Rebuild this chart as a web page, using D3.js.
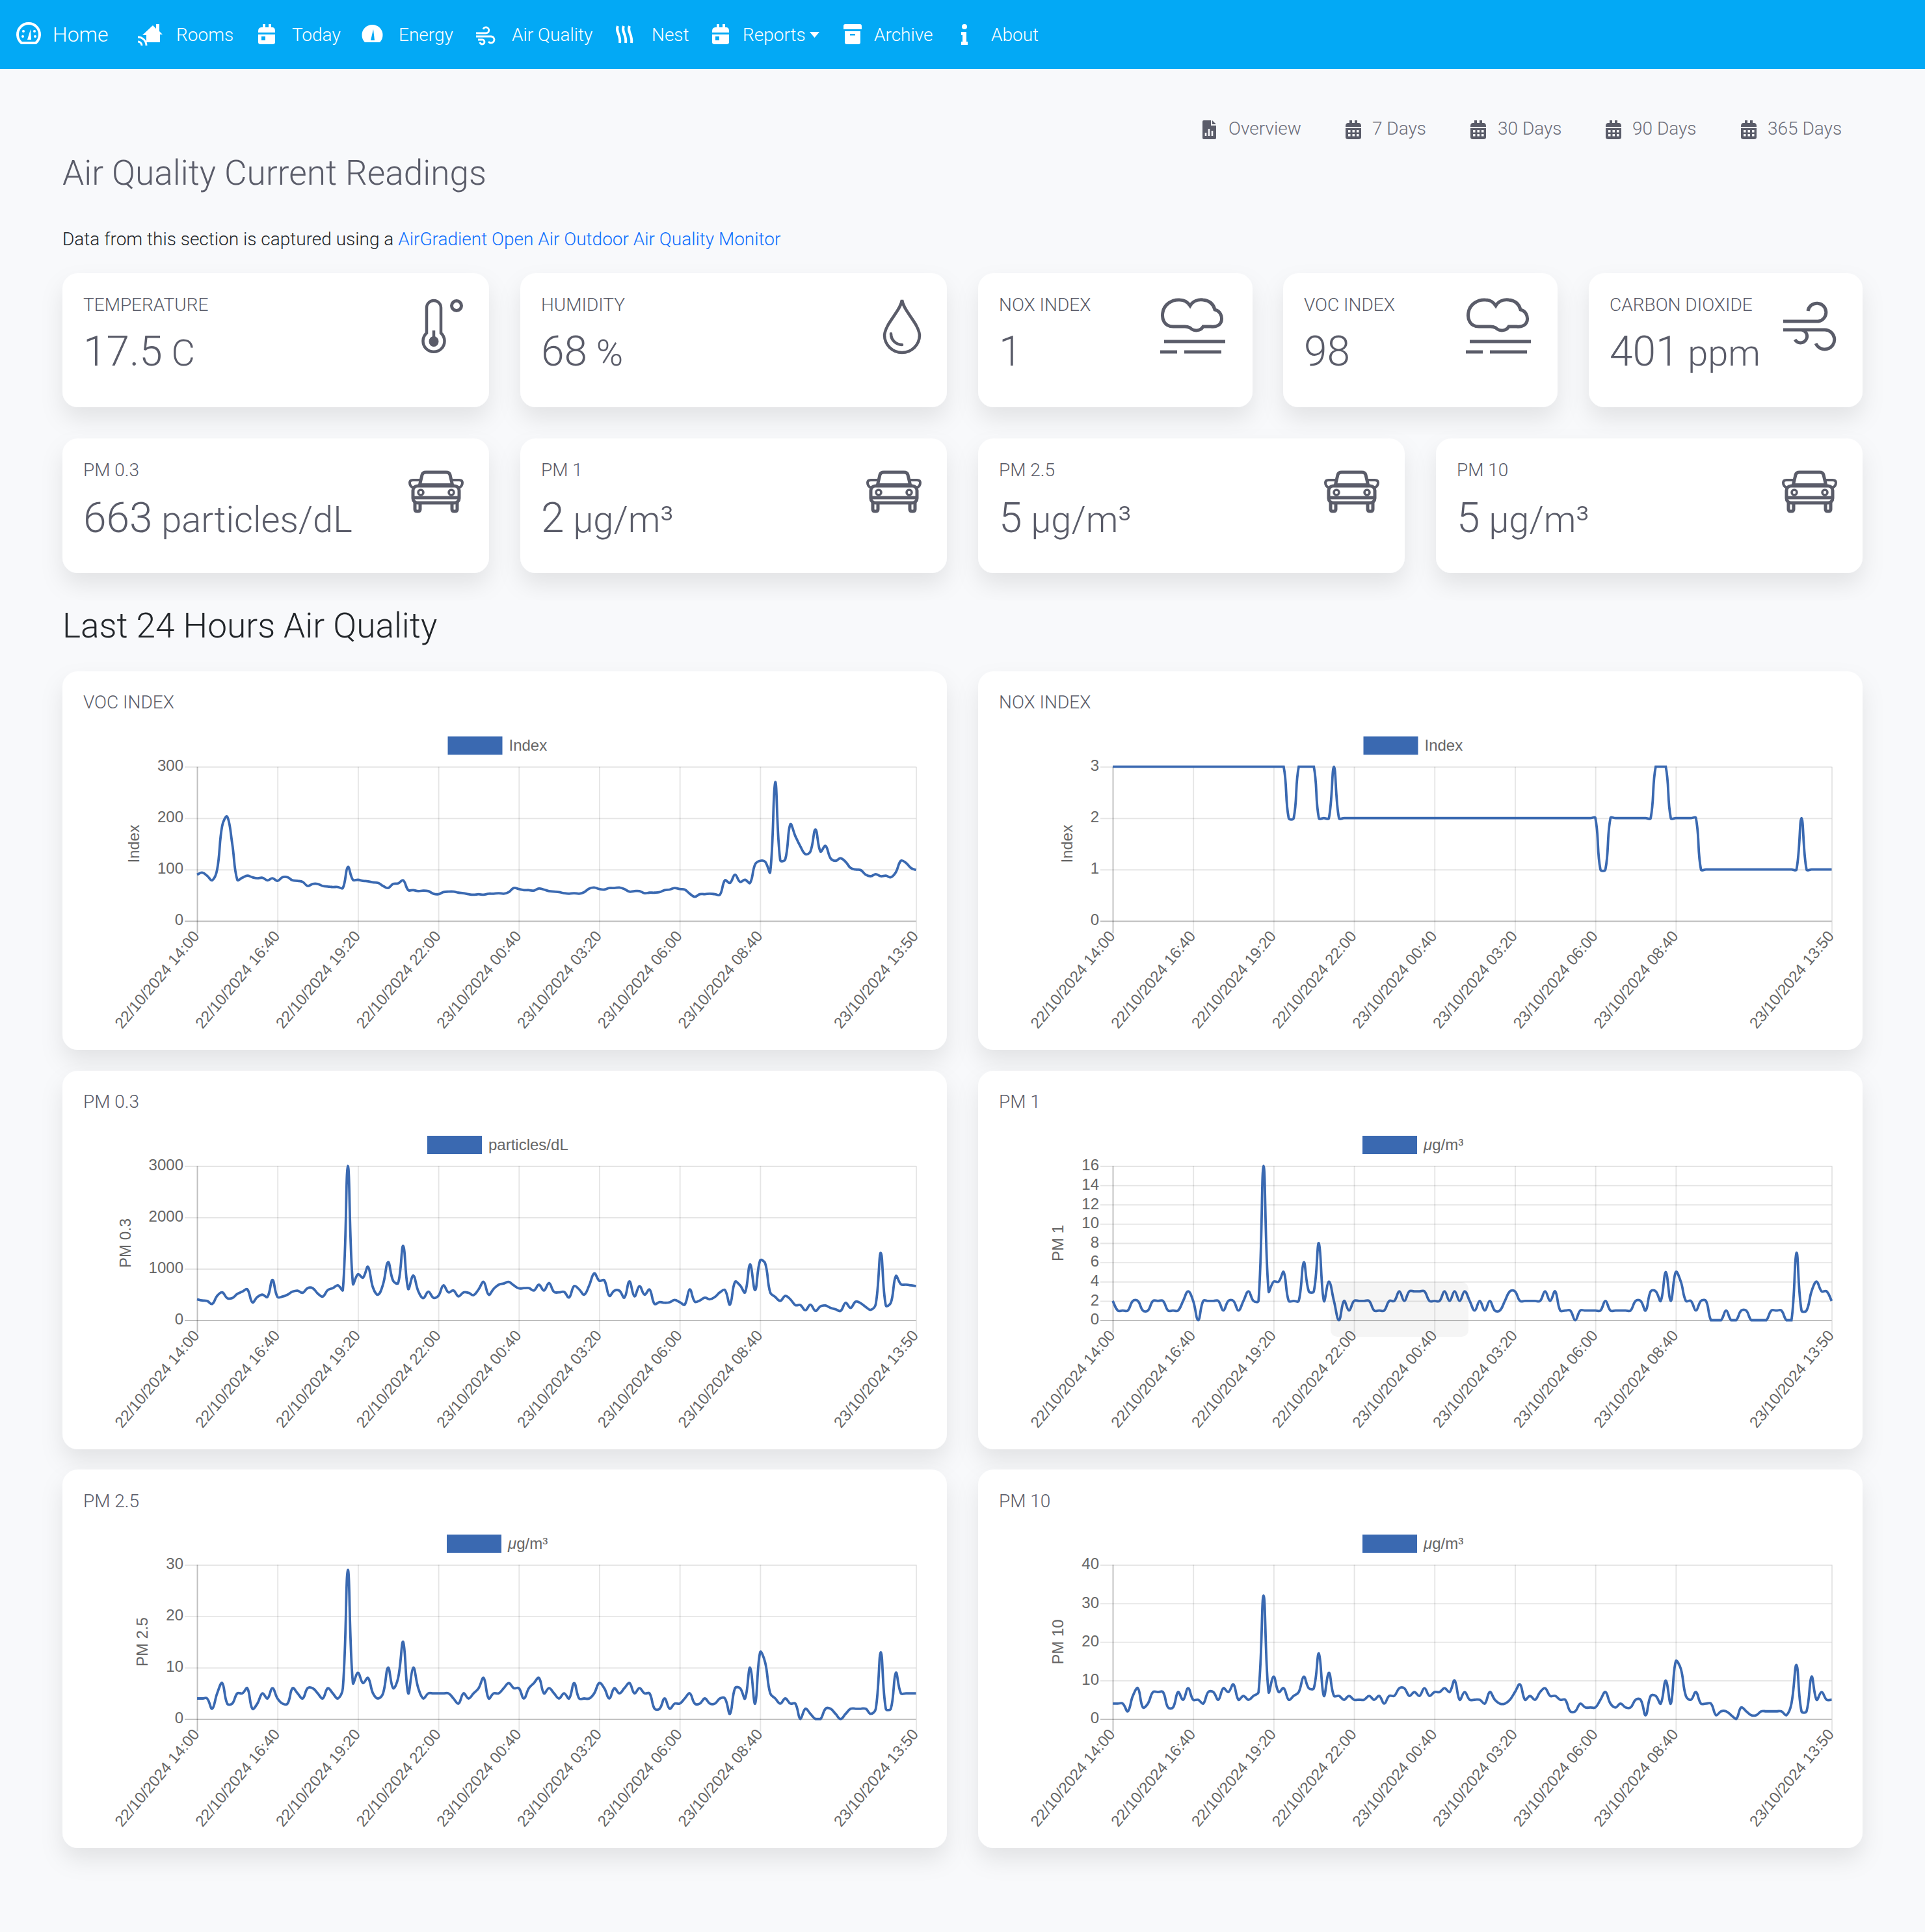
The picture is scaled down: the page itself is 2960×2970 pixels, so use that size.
<!DOCTYPE html>
<html>
<head>
<meta charset="utf-8">
<title>Air Quality</title>
<script src="https://cdn.jsdelivr.net/npm/d3@7"></script>
<style>
    html, body { margin: 0; padding: 0; background: #f8f9fb; }
    svg { display: block; }
    text { font-family: Roboto, sans-serif; font-weight: 300; }
    .chart-text { font-family: "Liberation Sans", Arial, sans-serif; font-weight: 400; fill: #666; font-size: 24px; }
</style>
</head>
<body>
<svg id="page" width="2960" height="2970"></svg>
<script>
// Series values, one per 10 minutes
const vocValues = [90, 94, 88, 79, 100, 185, 203, 150, 80, 84, 88, 85, 83, 84, 79, 83, 78, 85, 85, 79, 78, 76, 68, 72, 72, 68, 67, 66, 66, 64, 105, 80, 80, 78, 77, 75, 74, 68, 64, 72, 73, 79, 60, 60, 58, 59, 58, 53, 52, 56, 57, 57, 55, 54, 52, 51, 52, 51, 53, 53, 54, 53, 56, 64, 62, 60, 60, 59, 63, 61, 58, 57, 56, 54, 53, 54, 53, 56, 63, 65, 62, 61, 64, 64, 65, 62, 57, 58, 58, 54, 55, 55, 56, 60, 61, 64, 62, 61, 53, 47, 52, 52, 53, 52, 51, 79, 74, 90, 76, 80, 74, 110, 117, 115, 95, 270, 118, 120, 188, 165, 145, 130, 135, 178, 135, 146, 122, 117, 122, 115, 103, 100, 99, 90, 87, 91, 87, 88, 85, 95, 117, 113, 103, 99];
const noxValues = [3, 3, 3, 3, 3, 3, 3, 3, 3, 3, 3, 3, 3, 3, 3, 3, 3, 3, 3, 3, 3, 3, 3, 3, 3, 3, 3, 3, 3, 3, 3, 3, 3, 3, 3, 2, 2, 3, 3, 3, 3, 2, 2, 2, 3, 2, 2, 2, 2, 2, 2, 2, 2, 2, 2, 2, 2, 2, 2, 2, 2, 2, 2, 2, 2, 2, 2, 2, 2, 2, 2, 2, 2, 2, 2, 2, 2, 2, 2, 2, 2, 2, 2, 2, 2, 2, 2, 2, 2, 2, 2, 2, 2, 2, 2, 2, 2, 1, 1, 2, 2, 2, 2, 2, 2, 2, 2, 2, 3, 3, 3, 2, 2, 2, 2, 2, 2, 1, 1, 1, 1, 1, 1, 1, 1, 1, 1, 1, 1, 1, 1, 1, 1, 1, 1, 1, 1, 2, 1, 1, 1, 1, 1, 1];
const pm03Values = [407, 384, 375, 316, 474, 542, 430, 430, 510, 556, 600, 348, 452, 497, 452, 782, 452, 460, 497, 556, 574, 533, 624, 624, 520, 460, 587, 624, 678, 587, 3000, 709, 895, 827, 1040, 633, 497, 700, 1130, 768, 723, 1445, 610, 868, 565, 430, 556, 438, 474, 678, 542, 578, 465, 542, 533, 488, 600, 745, 497, 610, 690, 714, 745, 678, 620, 624, 624, 578, 690, 578, 723, 551, 542, 551, 443, 664, 600, 497, 678, 912, 768, 777, 474, 574, 574, 438, 754, 465, 664, 497, 596, 316, 352, 339, 348, 393, 352, 303, 600, 361, 384, 438, 407, 452, 542, 587, 303, 745, 678, 542, 1085, 587, 1165, 1107, 542, 452, 375, 474, 407, 294, 294, 194, 303, 181, 271, 285, 240, 212, 181, 339, 240, 361, 330, 258, 203, 316, 1310, 285, 339, 858, 700, 691, 678, 663];
const pm1Values = [2, 1, 1, 1, 2, 2, 1, 1, 2, 2, 2, 1, 1, 1, 2, 3, 2, 0, 2, 2, 2, 2, 1, 2, 2, 1, 2, 3, 2, 2, 16, 3, 4, 4, 5, 2, 2, 2, 6, 3, 3, 8, 2, 4, 2, 0, 2, 1, 2, 2, 2, 2, 1, 1, 1, 2, 2, 3, 2, 3, 3, 3, 3, 2, 2, 2, 3, 2, 3, 2, 3, 2, 1, 2, 1, 2, 1, 1, 2, 3, 3, 2, 2, 2, 2, 2, 3, 2, 3, 1, 1, 1, 0, 1, 1, 1, 1, 1, 2, 1, 1, 1, 1, 1, 2, 2, 1, 3, 3, 2, 5, 2, 5, 4, 2, 2, 1, 2, 2, 0, 0, 0, 1, 0, 0, 1, 1, 0, 0, 0, 0, 1, 1, 1, 0, 0, 7, 1, 1, 3, 4, 3, 3, 2];
const pm25Values = [4, 4, 4, 2, 5, 7, 3, 3, 5, 5, 6, 2, 3, 5, 4, 6, 4, 3, 3, 6, 5, 4, 6, 6, 5, 4, 6, 5, 4, 6, 29, 7, 9, 7, 8, 5, 4, 5, 10, 6, 8, 15, 5, 10, 6, 4, 5, 5, 5, 5, 5, 4, 3, 5, 4, 5, 6, 8, 4, 5, 5, 6, 7, 6, 6, 4, 6, 7, 8, 5, 6, 5, 4, 5, 4, 7, 4, 4, 4, 5, 7, 6, 4, 6, 5, 6, 7, 5, 6, 5, 5, 2, 2, 4, 2, 3, 3, 4, 5, 3, 3, 4, 3, 3, 4, 4, 1, 6, 6, 4, 10, 3, 13, 11, 5, 4, 3, 4, 3, 3, 0, 2, 1, 0, 0, 2, 2, 1, 0, 1, 2, 2, 2, 2, 1, 2, 13, 2, 2, 9, 5, 5, 5, 5];
const pm10Values = [4, 4, 4, 2, 6, 8, 3, 4, 7, 7, 7, 3, 3, 7, 5, 8, 5, 5, 4, 7, 7, 5, 8, 7, 9, 5, 6, 5, 6, 7, 32, 7, 11, 7, 8, 5, 6, 7, 11, 8, 8, 17, 6, 12, 6, 6, 5, 6, 5, 5, 5, 6, 5, 6, 4, 6, 6, 8, 8, 6, 7, 6, 8, 6, 7, 7, 8, 7, 10, 5, 7, 5, 5, 5, 4, 7, 5, 4, 4, 5, 7, 9, 5, 6, 5, 7, 8, 6, 6, 5, 5, 2, 2, 4, 3, 3, 3, 5, 7, 4, 3, 4, 3, 3, 5, 5, 1, 6, 6, 4, 10, 4, 15, 13, 6, 5, 7, 4, 4, 4, 1, 2, 2, 1, 0, 3, 2, 1, 1, 2, 2, 2, 2, 2, 1, 4, 14, 2, 2, 11, 5, 7, 5, 5];

// Shared category axis: sample index of each labelled tick
const xTickIndex = [0, 16, 32, 48, 64, 80, 96, 112, 143];
const xTickLabels = ['22/10/2024 14:00', '22/10/2024 16:40', '22/10/2024 19:20', '22/10/2024 22:00', '23/10/2024 00:40', '23/10/2024 03:20', '23/10/2024 06:00', '23/10/2024 08:40', '23/10/2024 13:50'];
const sampleCount = 144;

// Y axis ticks per chart
const vocTicks = [0, 100, 200, 300];
const noxTicks = [0, 1, 2, 3];
const pm03Ticks = [0, 1000, 2000, 3000];
const pm1Ticks = [0, 2, 4, 6, 8, 10, 12, 14, 16];
const pm25Ticks = [0, 10, 20, 30];
const pm10Ticks = [0, 10, 20, 30, 40];

// Current readings: label, number, unit
const topReadings = [['TEMPERATURE', '17.5', 'C'], ['HUMIDITY', '68', '%'], ['NOX INDEX', '1', ''], ['VOC INDEX', '98', ''], ['CARBON DIOXIDE', '401', 'ppm']];
const particleReadings = [['PM 0.3', '663', 'particles/dL'], ['PM 1', '2', 'μg/m³'], ['PM 2.5', '5', 'μg/m³'], ['PM 10', '5', 'μg/m³']];

const lineColor = '#3a69b1';
const textColor = '#5a5c69';
const navColor = '#03a9f5';
const pageColor = '#f8f9fb';

const svg = d3.select('#page');

const defs = svg.append('defs');
defs.append('filter')
    .attr('id', 'card-shadow')
    .attr('x', '-10%').attr('y', '-10%').attr('width', '120%').attr('height', '130%')
    .append('feDropShadow')
    .attr('dx', 0).attr('dy', 18).attr('stdDeviation', 17)
    .attr('flood-color', '#000').attr('flood-opacity', 0.085);

// Icons are drawn in pixel units from their own top left corner
const iconShapes = {
    gauge: g => {
        g.append('path').attr('d', 'M7 30 A17 17 0 1 1 29 30 Z').attr('fill', 'none').attr('stroke', '#fff').attr('stroke-width', 4);
        g.append('path').attr('d', 'M16 25 L21 9 L22 25 Z').attr('fill', '#fff');
        [[9, 20], [10, 12], [27, 12], [28, 20]].forEach(p => g.append('circle').attr('cx', p[0]).attr('cy', p[1]).attr('r', 2).attr('fill', '#fff'));
    },
    rooms: g => {
        g.append('path').attr('d', 'M8 17 L24 2 L29 7 V0 H34 V11 L39 16 H35 V28 H14 V17 Z').attr('fill', '#fff');
        g.append('path').attr('d', 'M1 20 A13 13 0 0 1 14 33 M1 27 A6 6 0 0 1 7 33').attr('fill', 'none').attr('stroke', '#fff').attr('stroke-width', 3);
    },
    calendar: g => {
        g.append('path').attr('d', 'M0 11 Q0 5 5 5 H7 V0 H11 V5 H16 V0 H20 V5 H22 Q26 5 26 11 V13 H0 Z M0 16 H26 V28 Q26 31 22 31 H4 Q0 31 0 28 Z').attr('fill', '#fff');
        g.append('rect').attr('x', 5).attr('y', 19).attr('width', 6).attr('height', 6).attr('fill', navColor);
    },
    energy: g => {
        g.append('path').attr('d', 'M5 28 A16 16 0 1 1 28 28 Z').attr('fill', '#fff');
        g.append('path').attr('d', 'M14 25 L18 8 L20 25 Z').attr('fill', navColor);
    },
    wind: g => {
        g.append('path').attr('d', 'M0 9 H15 A4.5 4.5 0 1 0 11 3 M0 14 H23 A5 5 0 1 1 19 22 M3 19 H9 A3.5 3.5 0 1 1 6 23').attr('fill', 'none').attr('stroke', '#fff').attr('stroke-width', 2.8);
    },
    nest: g => {
        g.append('path').attr('d', 'M5 2 C1 11 10 15 8 28 M14 2 C10 11 19 15 17 28 M23 2 C19 11 28 15 26 28').attr('fill', 'none').attr('stroke', '#fff').attr('stroke-width', 4);
    },
    archive: g => {
        g.append('path').attr('d', 'M0 3 Q0 0 3 0 H25 Q28 0 28 3 V8 H0 Z M2 11 H26 V28 Q26 31 23 31 H5 Q2 31 2 28 Z').attr('fill', '#fff');
        g.append('rect').attr('x', 10).attr('y', 15).attr('width', 8).attr('height', 2.5).attr('fill', navColor);
    },
    info: g => {
        g.append('circle').attr('cx', 5).attr('cy', 4).attr('r', 4).attr('fill', '#fff');
        g.append('path').attr('d', 'M0 12 H8 V27 H10 V32 H0 V27 H2 V17 H0 Z').attr('fill', '#fff');
    },
    report: g => {
        g.append('path').attr('d', 'M0 2 Q0 0 2 0 H13 V8 H21 V27 Q21 29 19 29 H2 Q0 29 0 27 Z M15 0 L21 6 H15 Z').attr('fill', textColor);
        g.append('path').attr('d', 'M5 24 V19 M10 24 V13 M15 24 V16').attr('stroke', pageColor).attr('stroke-width', 2.6);
    },
    days: g => {
        g.append('path').attr('d', 'M0 9 Q0 4 4 4 H6 V0 H10 V4 H14 V0 H18 V4 H20 Q24 4 24 9 V10 H0 Z M0 12 H24 V26 Q24 29 20 29 H4 Q0 29 0 26 Z').attr('fill', textColor);
        [15, 21].forEach(y => [4, 10.5, 17].forEach(x => g.append('rect').attr('x', x).attr('y', y).attr('width', 3.5).attr('height', 3.5).attr('fill', pageColor)));
    },
    thermometer: g => {
        g.append('path').attr('d', 'M12 54 V15 A11 11 0 0 1 34 15 V54 A16.5 16.5 0 1 1 12 54 Z').attr('fill', 'none').attr('stroke', textColor).attr('stroke-width', 4.5);
        g.append('path').attr('d', 'M23 50 V66').attr('stroke', textColor).attr('stroke-width', 4.5);
        g.append('ellipse').attr('cx', 23).attr('cy', 67).attr('rx', 7.5).attr('ry', 8).attr('fill', textColor);
        g.append('circle').attr('cx', 58).attr('cy', 12).attr('r', 7.5).attr('fill', 'none').attr('stroke', textColor).attr('stroke-width', 5);
    },
    droplet: g => {
        g.append('path').attr('d', 'M29 3 C31 20 54 38 56 57 A27 27 0 0 1 2 57 C4 38 27 20 29 3 Z').attr('fill', 'none').attr('stroke', textColor).attr('stroke-width', 4.5);
        g.append('path').attr('d', 'M12 55 C12 65 20 72 29 72').attr('fill', 'none').attr('stroke', textColor).attr('stroke-width', 4.5).attr('stroke-linecap', 'round');
    },
    cloud: g => {
        g.append('path').attr('d', 'M20 44 C6 44 2 32 4 22 C6 10 18 2 30 3 C36 3 42 6 46 12 C50 5 58 2 66 3 C76 4 82 10 84 18 C92 20 96 28 94 36 C92 42 86 45 78 44 H66 C62 51 52 52 46 46 C42 44 40 44 38 44 Z').attr('fill', 'none').attr('stroke', textColor).attr('stroke-width', 5);
        g.append('path').attr('d', 'M6 67 H100 M0 83 H26 M37 83 H94').attr('fill', 'none').attr('stroke', textColor).attr('stroke-width', 5);
    },
    breeze: g => {
        g.append('path').attr('d', 'M2 32 H56 A14 14 0 1 0 40 16 M2 45 H66 A15 15 0 1 1 52 66 M10 45 H30 A10 10 0 1 1 20 60').attr('fill', 'none').attr('stroke', textColor).attr('stroke-width', 5);
    },
    car: g => {
        g.append('path').attr('d', 'M17 24 L21 7 Q22 3 27 3 H58 Q63 3 64 7 L68 24 M10 50 V60 Q10 63 14 63 Q18 63 18 60 V50 M67 50 V60 Q67 63 71 63 Q75 63 75 60 V50').attr('fill', 'none').attr('stroke', textColor).attr('stroke-width', 5);
        g.append('rect').attr('x', 7).attr('y', 24).attr('width', 71).attr('height', 26).attr('rx', 7).attr('fill', 'none').attr('stroke', textColor).attr('stroke-width', 5);
        g.append('path').attr('d', 'M7 42 H78').attr('stroke', textColor).attr('stroke-width', 5);
        g.append('path').attr('d', 'M17 23 H68').attr('stroke', textColor).attr('stroke-width', 6);
        g.append('path').attr('d', 'M8 27 Q2 25 2 19 Q2 15 7 15 H17 M77 27 Q83 25 83 19 Q83 15 78 15 H68').attr('fill', 'none').attr('stroke', textColor).attr('stroke-width', 4);
        [19, 66].forEach(x => g.append('circle').attr('cx', x).attr('cy', 34).attr('r', 4).attr('fill', 'none').attr('stroke', textColor).attr('stroke-width', 3.5));
    }
};

function drawIcon(name, x, y) {
    const g = svg.append('g').attr('transform', `translate(${x},${y})`);
    iconShapes[name](g);
}

function addText(content, x, y, size, color, weight) {
    return svg.append('text')
        .attr('x', x)
        .attr('y', y)
        .attr('fill', color)
        .style('font-size', size + 'px')
        .style('font-weight', weight || 300)
        .text(content);
}

function addCard(x, y, width, height) {
    svg.append('rect')
        .attr('x', x).attr('y', y)
        .attr('width', width).attr('height', height)
        .attr('rx', 24)
        .attr('fill', '#fff')
        .attr('filter', 'url(#card-shadow)');
}

// Big reading: number at full size, unit a little smaller
function addReading(d, x, y) {
    const value = addText(d[1], x, y, 64, textColor);
    if (d[2]) {
        value.append('tspan').style('font-size', '56px').text(' ' + d[2]);
    }
}

// Navbar
svg.append('rect').attr('width', 2960).attr('height', 106).attr('fill', navColor);

const navItems = [
    { label: 'Rooms', textX: 271, icon: 'rooms', iconX: 211, iconY: 37 },
    { label: 'Today', textX: 449, icon: 'calendar', iconX: 397, iconY: 37 },
    { label: 'Energy', textX: 613, icon: 'energy', iconX: 556, iconY: 37 },
    { label: 'Air Quality', textX: 787, icon: 'wind', iconX: 732, iconY: 42 },
    { label: 'Nest', textX: 1002, icon: 'nest', iconX: 945, iconY: 38 },
    { label: 'Reports', textX: 1142, icon: 'calendar', iconX: 1095, iconY: 37 },
    { label: 'Archive', textX: 1344, icon: 'archive', iconX: 1297, iconY: 37 },
    { label: 'About', textX: 1524, icon: 'info', iconX: 1478, iconY: 37 }
];

addText('Home', 81, 64, 32, '#fff');
drawIcon('gauge', 26, 36);
navItems.forEach(d => {
    addText(d.label, d.textX, 63, 28, '#fff');
    drawIcon(d.icon, d.iconX, d.iconY);
});
svg.append('path').attr('d', 'M1245 49 H1260 L1252.5 58 Z').attr('fill', '#fff');

// Report range links
const rangeLinks = [
    { label: 'Overview', textX: 1889, icon: 'report', iconX: 1849 },
    { label: '7 Days', textX: 2110, icon: 'days', iconX: 2069 },
    { label: '30 Days', textX: 2303, icon: 'days', iconX: 2261 },
    { label: '90 Days', textX: 2510, icon: 'days', iconX: 2469 },
    { label: '365 Days', textX: 2718, icon: 'days', iconX: 2677 }
];
rangeLinks.forEach(d => {
    addText(d.label, d.textX, 207, 28, '#6c6e7a');
    drawIcon(d.icon, d.iconX, 185);
});

// Headings
addText('Air Quality Current Readings', 96, 284, 53.2, textColor);
const intro = addText('Data from this section is captured using a ', 96, 377, 28, '#212529', 300);
intro.append('tspan').attr('fill', '#0d6efd').text('AirGradient Open Air Outdoor Air Quality Monitor');
addText('Last 24 Hours Air Quality', 96, 980, 53.2, '#212529');

// Reading cards
const topCardX = [96, 800, 1504, 1973, 2443];
const topCardW = [656, 656, 422, 422, 421];
topReadings.forEach((d, i) => {
    addCard(topCardX[i], 420, topCardW[i], 206);
    addText(d[0], topCardX[i] + 32, 478, 28, textColor);
    addReading(d, topCardX[i] + 32, 562);
});
drawIcon('thermometer', 644, 458);
drawIcon('droplet', 1358, 458);
drawIcon('cloud', 1784, 458);
drawIcon('cloud', 2254, 458);
drawIcon('breeze', 2740, 462);

const particleCardX = [96, 800, 1504, 2208];
particleReadings.forEach((d, i) => {
    addCard(particleCardX[i], 674, 656, 207);
    addText(d[0], particleCardX[i] + 32, 732, 28, textColor);
    addReading(d, particleCardX[i] + 32, 818);
    drawIcon('car', particleCardX[i] + 532, 723);
});

// Chart.js style bezier: control points weighted by segment length, capped to the plot
function chartSpline(top, bottom, tension) {
    return function (context) {
        let pts = [];
        return {
            areaStart() {},
            areaEnd() {},
            lineStart() { pts = []; },
            point(x, y) { pts.push([x, y]); },
            lineEnd() {
                const cap = v => Math.max(top, Math.min(bottom, v));
                const controls = pts.map((p, i) => {
                    const prev = pts[i - 1] || p;
                    const next = pts[i + 1] || p;
                    const d01 = Math.hypot(p[0] - prev[0], p[1] - prev[1]);
                    const d12 = Math.hypot(next[0] - p[0], next[1] - p[1]);
                    const sum = d01 + d12 || 1;
                    const fa = tension * d01 / sum;
                    const fb = tension * d12 / sum;
                    return {
                        px: p[0] - fa * (next[0] - prev[0]),
                        py: cap(p[1] - fa * (next[1] - prev[1])),
                        nx: p[0] + fb * (next[0] - prev[0]),
                        ny: cap(p[1] + fb * (next[1] - prev[1]))
                    };
                });
                context.moveTo(pts[0][0], pts[0][1]);
                for (let i = 1; i < pts.length; i++) {
                    context.bezierCurveTo(controls[i - 1].nx, controls[i - 1].ny, controls[i].px, controls[i].py, pts[i][0], pts[i][1]);
                }
            }
        };
    };
}

// Create one chart card
function createChart(options) {
    addCard(options.cardX, options.cardY, 1360, 582);
    addText(options.title, options.cardX + 32, options.titleY, 28, textColor);

    const top = options.plotTop;
    const bottom = top + 237;
    const left = options.cardX + 207;
    const right = left + 1105.5;

    const xScale = d3.scaleLinear().domain([0, sampleCount - 1]).range([left, right]);
    const yScale = d3.scaleLinear().domain(options.yDomain).range([bottom, top]);

    const chart = svg.append('g');

    // Legend
    chart.append('rect')
        .attr('x', options.legendX).attr('y', top - 46.5)
        .attr('width', 84).attr('height', 28)
        .attr('fill', lineColor);
    const legendText = chart.append('text')
        .attr('class', 'chart-text')
        .attr('x', options.legendX + 94).attr('y', top - 24.5);
    if (options.legend === 'μg/m³') {
        legendText.append('tspan').style('font-style', 'italic').text('μ');
        legendText.append('tspan').text('g/m³');
    } else {
        legendText.text(options.legend);
    }

    // X axis with grid
    const xAxis = chart.append('g')
        .attr('transform', `translate(0,${bottom})`)
        .call(d3.axisBottom(xScale)
            .tickValues(xTickIndex)
            .tickFormat((d, i) => xTickLabels[i])
            .tickSize(19));
    xAxis.select('.domain').remove();
    xAxis.selectAll('.tick line')
        .attr('y1', -237)
        .attr('stroke', d => d === 0 ? 'rgba(0,0,0,0.25)' : 'rgba(0,0,0,0.1)')
        .attr('stroke-width', 1.9);
    xAxis.selectAll('.tick text')
        .attr('class', 'chart-text')
        .attr('text-anchor', 'end')
        .attr('x', 0).attr('y', 0).attr('dy', '0.35em')
        .attr('fill', null)
        .attr('transform', 'translate(-2,18.5) rotate(-50)');

    // Y axis with grid
    const yAxis = chart.append('g')
        .attr('transform', `translate(${left},0)`)
        .call(d3.axisLeft(yScale)
            .tickValues(options.yTicks)
            .tickFormat(d => String(d))
            .tickSize(19)
            .tickPadding(2));
    yAxis.select('.domain').remove();
    yAxis.selectAll('.tick line')
        .attr('x2', -19).attr('x1', right - left)
        .attr('stroke', d => d === 0 ? 'rgba(0,0,0,0.25)' : 'rgba(0,0,0,0.1)')
        .attr('stroke-width', 1.9);
    yAxis.selectAll('.tick text')
        .attr('class', 'chart-text')
        .attr('dy', '0.26em')
        .attr('fill', null);

    // Axis title
    chart.append('text')
        .attr('class', 'chart-text')
        .attr('text-anchor', 'middle')
        .attr('transform', `translate(${options.axisTitleX + 8},${(top + bottom) / 2}) rotate(-90)`)
        .text(options.axisTitle);

    // Line
    const line = d3.line()
        .x((d, i) => xScale(i))
        .y(d => yScale(d))
        .curve(chartSpline(top, bottom, 0.4));

    chart.append('path')
        .datum(options.values)
        .attr('fill', 'none')
        .attr('stroke', lineColor)
        .attr('stroke-width', 3.8)
        .attr('d', line);
}

const charts = [
    { title: 'VOC INDEX', cardX: 96, cardY: 1032, titleY: 1089, plotTop: 1178.7, legend: 'Index', legendX: 688.5, axisTitle: 'Index', axisTitleX: 206, values: vocValues, yDomain: [0, 300], yTicks: vocTicks },
    { title: 'NOX INDEX', cardX: 1504, cardY: 1032, titleY: 1089, plotTop: 1178.7, legend: 'Index', legendX: 2096.5, axisTitle: 'Index', axisTitleX: 1641, values: noxValues, yDomain: [0, 3], yTicks: noxTicks },
    { title: 'PM 0.3', cardX: 96, cardY: 1646, titleY: 1703, plotTop: 1792.5, legend: 'particles/dL', legendX: 657, axisTitle: 'PM 0.3', axisTitleX: 193, values: pm03Values, yDomain: [0, 3000], yTicks: pm03Ticks },
    { title: 'PM 1', cardX: 1504, cardY: 1646, titleY: 1703, plotTop: 1792.5, legend: 'μg/m³', legendX: 2095, axisTitle: 'PM 1', axisTitleX: 1627, values: pm1Values, yDomain: [0, 16], yTicks: pm1Ticks },
    { title: 'PM 2.5', cardX: 96, cardY: 2259, titleY: 2317, plotTop: 2405.6, legend: 'μg/m³', legendX: 687, axisTitle: 'PM 2.5', axisTitleX: 219, values: pm25Values, yDomain: [0, 30], yTicks: pm25Ticks },
    { title: 'PM 10', cardX: 1504, cardY: 2259, titleY: 2317, plotTop: 2405.6, legend: 'μg/m³', legendX: 2095, axisTitle: 'PM 10', axisTitleX: 1627, values: pm10Values, yDomain: [0, 40], yTicks: pm10Ticks }
];

charts.forEach(createChart);

// Fading tooltip left over in the PM 1 chart
svg.append('rect')
    .attr('x', 2046).attr('y', 1971)
    .attr('width', 212).attr('height', 84)
    .attr('rx', 10)
    .attr('fill', 'rgba(0,0,0,0.04)');
</script>
</body>
</html>
